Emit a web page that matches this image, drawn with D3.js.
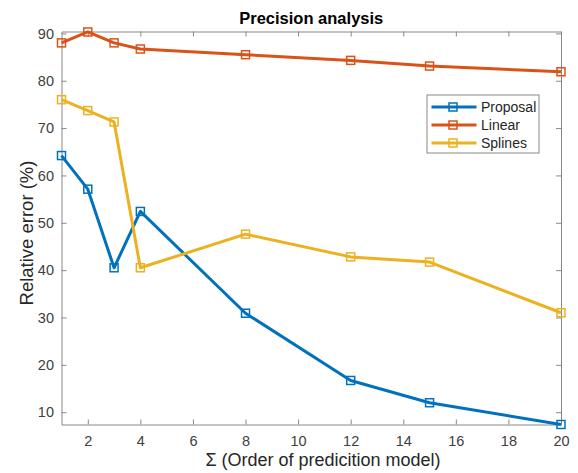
<!DOCTYPE html>
<head>
  <meta charset="utf-8">
  <title>Precision analysis</title>
  <script src="https://d3js.org/d3.v7.min.js"></script>
  <style>
  body { margin: 0; background: #fff; }
  text { font-family: "Liberation Sans", Arial, sans-serif; fill: #262626; }
  .axis path, .axis line { stroke: #888; }
  </style>
</head>
<body>
  <script>

    // Data
    var orders = [1, 2, 3, 4, 8, 12, 15, 20];
    var proposal = [64.2, 57.1, 40.5, 52.4, 30.9, 16.7, 12.0, 7.4];
    var linear = [88.0, 90.3, 88.0, 86.7, 85.5, 84.3, 83.1, 81.9];
    var splines = [76.0, 73.7, 71.3, 40.5, 47.6, 42.8, 41.7, 31.0];
    var seriesNames = ["Proposal", "Linear", "Splines"];
    var colors = ["#0072BD", "#D95319", "#EDB120"];
    var xTicks = [2, 4, 6, 8, 10, 12, 14, 16, 18, 20];
    var yTicks = [10, 20, 30, 40, 50, 60, 70, 80, 90];

    var series = [proposal, linear, splines];

    // Set margins
    var margin = {top: 31.5, right: 17, bottom: 48.5, left: 61.5},
      width = 578 - margin.left - margin.right,
      height = 473 - margin.top - margin.bottom;

    var x = d3.scaleLinear().domain([1, 20]).range([0, width]);
    var y = d3.scaleLinear().domain([7.4, 90.4]).range([height, 0]);

    var svg = d3.select("body").append("svg")
      .attr("width", 578)
      .attr("height", 473)
      .append("g")
      .attr("transform", "translate(" + margin.left + "," + margin.top + ")");

    // Axes (box on, ticks inside)
    svg.append("g").attr("class", "axis")
      .attr("transform", "translate(0," + height + ")")
      .call(d3.axisBottom(x).tickValues(xTicks).tickSizeInner(-5).tickSizeOuter(0).tickPadding(11.5));
    svg.append("g").attr("class", "axis")
      .call(d3.axisLeft(y).tickValues(yTicks).tickSizeInner(-5).tickSizeOuter(0).tickPadding(7.5));
    svg.append("g").attr("class", "axis")
      .call(d3.axisTop(x).tickValues(xTicks).tickSizeInner(-5).tickSizeOuter(0).tickFormat(""));
    svg.append("g").attr("class", "axis")
      .attr("transform", "translate(" + width + ",0)")
      .call(d3.axisRight(y).tickValues(yTicks).tickSizeInner(-5).tickSizeOuter(0).tickFormat(""));

    svg.selectAll(".axis text")
      .style("font-size", "14.5px")
      .style("fill", "#404040");

    // Lines and markers
    var line = d3.line()
      .x(function(d, i) { return x(orders[i]); })
      .y(function(d) { return y(d); });

    series.forEach(function(values, s) {
      svg.append("path")
        .datum(values)
        .attr("fill", "none")
        .attr("stroke", colors[s])
        .attr("stroke-width", 3)
        .attr("stroke-linejoin", "round")
        .attr("d", line);

      svg.selectAll(".m" + s)
        .data(values)
        .enter().append("rect")
        .attr("class", "m" + s)
        .attr("x", function(d, i) { return x(orders[i]) - 4; })
        .attr("y", function(d) { return y(d) - 4; })
        .attr("width", 8)
        .attr("height", 8)
        .attr("fill", "none")
        .attr("stroke", colors[s])
        .attr("stroke-width", 1.5);
    });

    // Legend
    var legend = svg.append("g")
      .attr("transform", "translate(" + (427 - margin.left) + "," + (95 - margin.top) + ")");
    legend.append("rect")
      .attr("width", 112)
      .attr("height", 58)
      .attr("fill", "#fff")
      .attr("stroke", "#888");
    seriesNames.forEach(function(name, s) {
      var ly = 12 + s * 18;
      legend.append("line")
        .attr("x1", 4.5).attr("x2", 49.5)
        .attr("y1", ly).attr("y2", ly)
        .attr("stroke", colors[s])
        .attr("stroke-width", 3);
      legend.append("rect")
        .attr("x", 22).attr("y", ly - 4)
        .attr("width", 8).attr("height", 8)
        .attr("fill", "none")
        .attr("stroke", colors[s])
        .attr("stroke-width", 1.5);
      legend.append("text")
        .attr("x", 54)
        .attr("y", ly + 5)
        .style("font-size", "14px")
        .text(name);
    });

    // Title
    svg.append("text")
      .attr("x", width / 2)
      .attr("y", -7.5)
      .attr("text-anchor", "middle")
      .style("font-size", "16.5px")
      .style("font-weight", "bold")
      .style("fill", "#000")
      .text("Precision analysis");

    // x label
    svg.append("text")
      .attr("x", 323 - margin.left)
      .attr("y", 466 - margin.top)
      .attr("text-anchor", "middle")
      .style("font-size", "18px")
      .text("\u03A3 (Order of predicition model)");

    // y label
    svg.append("text")
      .attr("transform", "rotate(-90)")
      .attr("x", -(233 - margin.top))
      .attr("y", -29)
      .attr("text-anchor", "middle")
      .style("font-size", "18.5px")
      .text("Relative error (%)");

  </script>
</body>
</html>
